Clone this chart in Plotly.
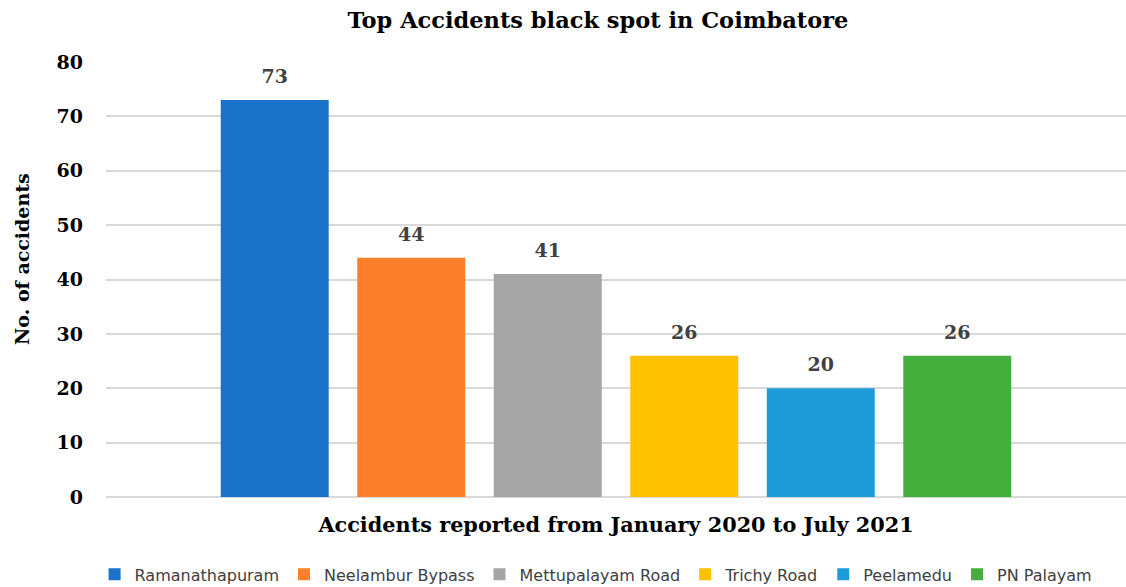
import plotly.graph_objects as go

categories = ["Ramanathapuram", "Neelambur Bypass", "Mettupalayam Road", "Trichy Road", "Peelamedu", "PN Palayam"]
values = [73, 44, 41, 26, 20, 26]
colors = ["#1A72C9", "#FD7F2A", "#A5A5A5", "#FFC000", "#1E9CD9", "#45AF3D"]
group_label = ["Accidents reported from January 2020 to July 2021"]
yticks = [0, 10, 20, 30, 40, 50, 60, 70, 80]

serif = "DejaVu Serif, serif"
label_lift = 1.85  # extra lift of the value labels above the bar tops (axis units)

fig = go.Figure()
for name, v, c in zip(categories, values, colors):
    fig.add_trace(go.Bar(
        x=group_label, y=[v], name=name, offsetgroup=name,
        marker=dict(color=c, line=dict(width=0)),
        hovertemplate=name + ": %{y}<extra></extra>",
    ))
    # invisible companion bar, same slot, used only to place the value label
    fig.add_trace(go.Bar(
        x=group_label, y=[v], base=[label_lift], name=name, offsetgroup=name,
        marker=dict(color="rgba(0,0,0,0)", line=dict(width=0)),
        text=[str(v)], textposition="outside",
        textfont=dict(family=serif, size=19, color="#404040", weight="bold"),
        cliponaxis=False, showlegend=False, hoverinfo="skip",
    ))

fig.update_layout(
    width=1126, height=587,
    margin=dict(l=106, r=0, t=62, b=90, autoexpand=False),
    paper_bgcolor="white", plot_bgcolor="white",
    barmode="group", bargap=0.197, bargroupgap=0.209,
    title=dict(text="Top Accidents black spot in Coimbatore", x=0.531, xanchor="center",
               y=0.965, yanchor="middle",
               font=dict(family=serif, size=22.5, color="#000000", weight="bold")),
    showlegend=True,
    legend=dict(orientation="h", x=0.48, xanchor="center", y=-0.178, yanchor="middle",
                font=dict(family="DejaVu Sans, sans-serif", size=16, color="#404040"),
                itemwidth=30, tracegroupgap=0),
    annotations=[dict(text="No. of accidents", textangle=-90, xref="paper", yref="paper",
                      x=-0.0824, y=0.547, xanchor="center", yanchor="middle", showarrow=False,
                      font=dict(family=serif, size=19, color="#000000", weight="bold"))],
)
fig.update_xaxes(showticklabels=False, showgrid=False, zeroline=False, showline=False,
                 title=dict(text=group_label[0], standoff=20,
                            font=dict(family=serif, size=20.8, color="#000000", weight="bold")))
fig.update_yaxes(range=[0, 80], tickvals=yticks, showgrid=True, gridcolor="#D9D9D9", gridwidth=1.5,
                 zeroline=True, zerolinecolor="#D9D9D9", zerolinewidth=1.5, showline=False,
                 ticklabelstandoff=22,
                 tickfont=dict(family=serif, size=19, color="#000000", weight="bold"))

fig.write_html("out.html")
